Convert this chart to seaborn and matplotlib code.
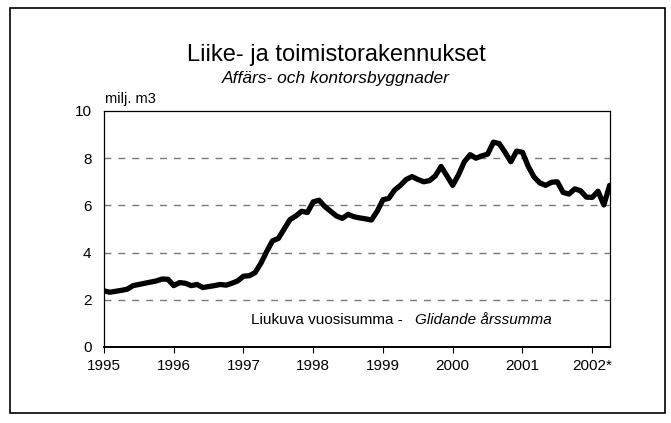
import matplotlib
matplotlib.use("Agg")
import matplotlib.pyplot as plt
import seaborn as sns
import numpy as np
import pandas as pd
from matplotlib.patches import Rectangle

sns.set_style("white")
plt.rcParams['font.family'] = ['Liberation Sans', 'DejaVu Sans']
plt.rcParams['text.color'] = 'black'
plt.rcParams['xtick.color'] = 'black'
plt.rcParams['ytick.color'] = 'black'
plt.rcParams['axes.labelcolor'] = 'black'

# Monthly moving annual sum, Jan 1995 .. Apr 2002 (milj. m3)
start_year = 1995
values = [
    2.38, 2.32, 2.36, 2.40, 2.45, 2.60, 2.65, 2.70, 2.75, 2.80, 2.88, 2.87,
    2.60, 2.73, 2.70, 2.60, 2.65, 2.52, 2.56, 2.60, 2.65, 2.62, 2.70, 2.80,
    3.00, 3.02, 3.15, 3.55, 4.05, 4.50, 4.60, 5.00, 5.40, 5.55, 5.75, 5.70,
    6.15, 6.22, 5.95, 5.75, 5.55, 5.45, 5.62, 5.52, 5.47, 5.43, 5.38, 5.75,
    6.24, 6.30, 6.65, 6.85, 7.10, 7.22, 7.10, 7.00, 7.05, 7.25, 7.65, 7.25,
    6.85, 7.30, 7.85, 8.15, 8.00, 8.10, 8.17, 8.68, 8.62, 8.25, 7.85, 8.30,
    8.25, 7.65, 7.20, 6.95, 6.85, 6.98, 7.00, 6.55, 6.48, 6.70, 6.62, 6.35,
    6.34, 6.60, 6.02, 6.85,
]
year_ticks = [1995, 1996, 1997, 1998, 1999, 2000, 2001, 2002]
year_labels = ["1995", "1996", "1997", "1998", "1999", "2000", "2001", "2002*"]
y_ticks = [0, 2, 4, 6, 8, 10]

title = "Liike- ja toimistorakennukset"
subtitle = "Affärs- och kontorsbyggnader"
unit = "milj. m3"
note_fi = "Liukuva vuosisumma - "
note_sv = "Glidande årssumma"

df = pd.DataFrame({
    "t": start_year + np.arange(len(values)) / 12.0,
    "v": values,
})

W, H = 671, 423
fig = plt.figure(figsize=(W / 100, H / 100), dpi=100)
fig.patch.set_facecolor("white")

ax = fig.add_axes([104 / W, 1 - 347 / H, (610 - 104) / W, (347 - 111) / H])
sns.lineplot(data=df, x="t", y="v", ax=ax, color="black", linewidth=3.8)

ax.set_xlim(1995, 1995 + 87 / 12 + 0.005)
ax.set_ylim(0, 10)
ax.set_xlabel("")
ax.set_ylabel("")
ax.set_xticks(year_ticks)
ax.set_xticklabels(year_labels)
ax.set_yticks(y_ticks)
ax.tick_params(axis="x", direction="out", length=4, width=0.8, pad=5,
               labelsize=11, bottom=True, colors="black")
ax.tick_params(axis="y", length=0, pad=9, labelsize=11, colors="black")
for s in ax.spines.values():
    s.set_visible(True)
    s.set_color("black")
    s.set_linewidth(0.9)
ax.spines["bottom"].set_linewidth(1.4)

for yv in [2, 4, 6, 8]:
    ax.axhline(yv, color="#7a7a7a", linewidth=1.0, linestyle=(0, (5, 5)), zorder=0)

# outer frame
fig.add_artist(Rectangle((10 / W, 1 - 413 / H), (665 - 10) / W, (413 - 8) / H,
                         transform=fig.transFigure, fill=False,
                         edgecolor="black", linewidth=1.2))

fig.text(336 / W, 1 - 55 / H, title, ha="center", va="center", fontsize=17)
fig.text(336 / W, 1 - 79 / H, subtitle, ha="center", va="center",
         fontsize=12.5, style="italic")
fig.text(105 / W, 1 - 99 / H, unit, ha="left", va="center", fontsize=10.5)

fig.text(251 / W, 1 - 320 / H, note_fi, ha="left", va="center", fontsize=11)
fig.text(415 / W, 1 - 320 / H, note_sv, ha="left", va="center",
         fontsize=11, style="italic")

fig.savefig("out.png", dpi=100, facecolor="white")
